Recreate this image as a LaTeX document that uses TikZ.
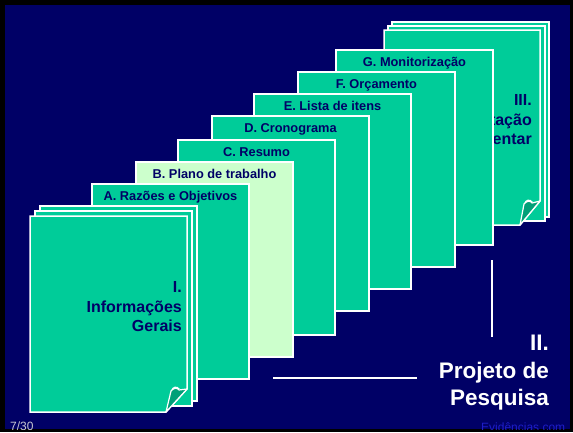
\documentclass[tikz,border=0pt]{standalone}
\usepackage{fontspec}
\setmainfont{Liberation Sans}
\usepackage{tikz}
\usetikzlibrary{positioning, calc}
\definecolor{mynavy}{RGB}{0,0,102}
\definecolor{mygreen}{RGB}{0,204,153}
\definecolor{mypale}{RGB}{204,255,204}
\definecolor{mydeep}{RGB}{0,160,120}
\definecolor{mygray}{RGB}{200,200,210}
\definecolor{myblue}{RGB}{30,30,200}
\tikzset{
  sheet/.style={rectangle, draw=white, fill=mygreen, line width=1.5pt,
    minimum width=157pt, minimum height=195pt, anchor=north west,
    inner sep=0pt, outer sep=0pt},
  palesheet/.style={sheet, fill=mypale},
  frontsheet/.style={draw=white, fill=mygreen, line width=1.5pt},
  flap/.style={draw=white, fill=mydeep, line width=1.2pt, line join=round},
  tab/.style={font=\bfseries\fontsize{12.8}{15}\selectfont, text=mynavy,
    inner sep=0pt, anchor=base},
  partlabel/.style={font=\bfseries\fontsize{16}{19.5}\selectfont, text=mynavy,
    align=right, inner sep=0pt, anchor=north east},
  bigpart/.style={font=\bfseries\fontsize{22.5}{27.5}\selectfont, text=white,
    align=right, inner sep=0pt, anchor=north east},
  rule/.style={draw=white, line width=1.5pt},
  footer/.style={font=\fontsize{12}{14}\selectfont, anchor=base west, inner sep=0pt}
}

\begin{document}
\begin{tikzpicture}[x=1pt, y=-1pt]
  % Frame
  \fill[black] (0,0) rectangle (573,432);
  \useasboundingbox (0,0) rectangle (573,432);
  \begin{scope}
  \clip (5,5) rectangle (570,429);
  \fill[mynavy] (5,5) rectangle (570,429);

  % Stack III (behind)
  \node[sheet] (III2) at (392,22) {};
  \node[sheet] (III1) at (388,26) {};
  \draw[frontsheet] (384,30) -- (540,30) -- (540,201) -- (520,225) -- (384,225) -- cycle;
  \draw[flap] (520,225) -- (524,204) .. controls (527,200) and (531,201) .. (532,203) -- (540,201) -- cycle;
  \fill[white] (524,204) .. controls (525,199) and (530,198) .. (533,202)
    .. controls (530,201) and (527,201) .. (524,204) -- cycle;
  \node[partlabel] (lIII) at (532,94.5) {III.\\Documentação\\Complementar};

  % Sections of the project
  \node[sheet] (G) at (336,50) {};
  \node[tab] (tG) at ([yshift=-16.5pt]G.north) {G. Monitorização};
  \node[sheet] (F) at (298,72) {};
  \node[tab] (tF) at ([yshift=-16.5pt]F.north) {F. Orçamento};
  \node[sheet] (E) at (254,94) {};
  \node[tab] (tE) at ([yshift=-16.5pt]E.north) {E. Lista de itens};
  \node[sheet] (D) at (212,116) {};
  \node[tab] (tD) at ([yshift=-16.5pt]D.north) {D. Cronograma};
  \node[sheet] (C) at (178,140) {};
  \node[tab] (tC) at ([yshift=-16.5pt]C.north) {C. Resumo};
  \node[palesheet] (B) at (136,162) {};
  \node[tab] (tB) at ([yshift=-16.5pt]B.north) {B. Plano de trabalho};
  \node[sheet] (A) at (92,184) {};
  \node[tab] (tA) at ([yshift=-16.5pt]A.north) {A. Razões e Objetivos};

  % Stack I (front)
  \node[sheet] (I2) at (40,206) {};
  \node[sheet] (I1) at (35,211) {};
  \draw[frontsheet] (30,216) -- (187,216) -- (187,389) -- (166,412) -- (30,412) -- cycle;
  \draw[flap] (166,412) -- (171,391) .. controls (174,387) and (178,388) .. (179,390) -- (187,389) -- cycle;
  \fill[white] (171,391) .. controls (172,386) and (177,385) .. (180,389)
    .. controls (177,388) and (174,388) .. (171,391) -- cycle;
  \node[partlabel] (lI) at (182,281.5) {I.\\Informações\\Gerais};

  % Guide lines
  \coordinate (v1) at (492,260);
  \coordinate (v2) at (492,337);
  \coordinate (h1) at (273,378);
  \coordinate (h2) at (417,378);
  \draw[rule] (v1) -- (v2);
  \draw[rule] (h1) -- (h2);

  % Part II
  \node[bigpart] (lII) at (549,335) {II.\\Projeto de\\Pesquisa};

  % Footers
  \node[footer, text=mygray] (pg) at (10,430) {7/30};
  \node[footer, text=myblue] (src) at (481,431) {Evidências com};
  \end{scope}
\end{tikzpicture}
\end{document}
